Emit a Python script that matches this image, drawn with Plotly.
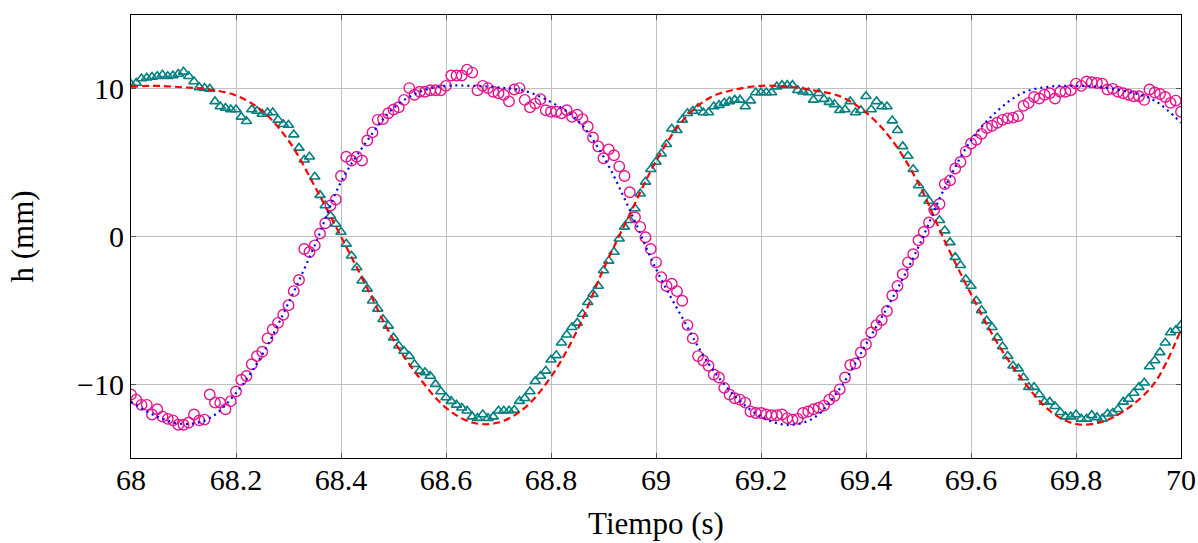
import numpy as np
import plotly.graph_objects as go

# sample times of the measured points (100 Hz) and of the fitted curves
t_meas = np.round(np.linspace(68.0, 70.0, 201), 2)
t_fit = np.round(np.linspace(68.0, 70.0, 41), 2)

tri_vals = [
    10.3, 10.4, 10.7, 10.75, 10.8, 10.85, 10.95, 10.85, 10.9, 11.0,
    11.15, 10.85, 10.5, 10.1, 10.05, 10.0, 9.15, 8.8, 8.7, 8.6,
    8.6, 8.1, 7.8, 8.6, 8.5, 8.3, 8.4, 8.4, 7.9, 7.6,
    7.55, 6.9, 6.0, 5.2, 5.4, 4.05, 2.8, 2.1, 1.4, 0.85,
    0.3, -0.5, -1.3, -2.1, -3.0, -3.55, -4.35, -4.9, -5.6, -6.05,
    -6.85, -7.4, -7.75, -8.1, -8.65, -9.1, -9.2, -9.45, -10.0, -10.5,
    -10.9, -11.15, -11.4, -11.6, -11.8, -12.2, -12.3, -12.05, -12.3, -12.2,
    -11.8, -11.8, -11.8, -11.75, -11.15, -10.95, -10.5, -9.8, -9.45, -9.1,
    -8.35, -8.05, -7.2, -6.65, -6.15, -5.85, -5.25, -4.45, -3.9, -3.35,
    -2.3, -1.65, -1.05, -0.15, 0.65, 1.1, 1.9, 2.9, 3.7, 4.55,
    5.05, 5.6, 6.25, 7.3, 7.2, 7.9, 8.35, 8.5, 8.7, 8.4,
    8.4, 8.8, 8.9, 9.05, 9.15, 9.25, 9.25, 8.8, 9.2, 9.75,
    9.75, 9.75, 9.75, 10.15, 10.25, 10.25, 10.25, 9.9, 9.8, 9.75,
    9.25, 9.7, 9.3, 9.1, 8.95, 8.55, 8.6, 9.15, 8.4, 8.55,
    9.5, 8.6, 9.15, 8.8, 8.8, 7.85, 7.2, 6.1, 5.45, 4.55,
    3.45, 2.9, 2.4, 2.0, 1.1, 0.4, -0.4, -1.4, -1.95, -2.9,
    -3.35, -4.35, -5.0, -5.7, -6.15, -6.85, -7.45, -8.1, -8.75, -8.95,
    -9.55, -10.2, -10.2, -10.7, -11.2, -11.2, -11.5, -11.9, -12.2, -12.2,
    -12.05, -12.35, -12.35, -12.1, -12.25, -12.35, -12.0, -11.95, -11.7, -11.2,
    -11.0, -10.6, -10.2, -9.9, -8.8, -8.4, -7.85, -7.2, -6.5, -6.35, -6.0,
]

circ_vals = [
    -10.7, -11.05, -11.4, -11.4, -12.05, -11.7, -12.2, -12.35, -12.45, -12.75,
    -12.75, -12.6, -12.05, -12.45, -12.4, -10.7, -11.25, -11.25, -11.7, -11.15,
    -10.5, -9.7, -9.45, -8.65, -8.1, -7.8, -6.9, -6.3, -5.85, -5.3,
    -4.65, -3.7, -2.95, -0.85, -1.05, -0.6, 0.2, 0.9, 2.1, 2.5,
    4.1, 5.4, 5.15, 5.4, 5.15, 6.5, 7.05, 7.9, 7.95, 8.35,
    8.6, 8.75, 9.25, 10.05, 9.6, 9.8, 9.8, 9.9, 9.9, 9.9,
    10.2, 10.9, 10.9, 10.9, 11.3, 11.1, 9.9, 10.2, 10.05, 9.8,
    9.7, 9.6, 9.15, 9.95, 10.05, 9.25, 8.75, 9.0, 9.3, 8.55,
    8.45, 8.45, 8.35, 8.55, 8.1, 8.25, 7.95, 7.45, 6.7, 6.1,
    5.3, 5.9, 5.5, 4.75, 4.1, 3.0, 1.3, 0.65, -0.05, -0.85,
    -1.75, -2.75, -3.35, -3.2, -3.7, -4.35, -6.0, -6.9, -8.1, -8.4,
    -8.75, -9.35, -9.55, -10.25, -10.7, -10.95, -11.05, -11.25, -11.85, -11.95,
    -11.95, -12.05, -12.1, -12.1, -12.05, -12.3, -12.4, -12.35, -11.95, -11.85,
    -11.7, -11.6, -11.45, -11.05, -10.8, -10.35, -9.55, -8.7, -8.6, -7.85,
    -7.3, -6.5, -6.0, -5.65, -5.05, -4.0, -3.35, -2.55, -1.75, -1.2,
    -0.25, 0.3, 0.95, 1.8, 2.2, 3.55, 3.8, 4.6, 5.05, 5.75,
    6.3, 6.55, 6.95, 7.35, 7.5, 7.7, 7.9, 8.0, 8.05, 8.15,
    8.85, 9.05, 9.45, 9.35, 9.6, 9.7, 9.35, 9.8, 9.8, 9.9,
    10.35, 10.2, 10.5, 10.45, 10.4, 10.35, 9.95, 10.0, 9.8, 9.7,
    9.6, 9.5, 9.5, 9.25, 9.95, 9.75, 9.65, 9.45, 9.05, 9.2, 8.45,
]

red_fit = [
    10.15, 10.2, 10.1, 9.95, 9.55, 8.5, 6.5, 3.4, 0.0, -3.5,
    -7.0, -9.6, -11.6, -12.6, -12.6, -11.6, -9.5, -6.35, -2.2, 1.5,
    5.1, 7.8, 9.35, 9.95, 10.2, 10.15, 9.9, 9.5, 8.4, 6.5,
    3.6, -0.3, -3.9, -7.2, -9.8, -11.8, -12.7, -12.55, -11.6, -9.9,
    -6.3,
]

blue_fit = [
    -11.2, -12.2, -12.7, -12.3, -10.6, -8.0, -4.5, -0.6, 3.7, 6.5,
    8.7, 9.8, 10.2, 10.2, 10.1, 9.85, 9.1, 7.9, 5.4, 1.8,
    -2.2, -5.5, -8.6, -10.8, -12.2, -12.75, -12.3, -10.3, -7.3, -4.2,
    -0.7, 3.3, 6.5, 8.5, 9.75, 10.15, 10.2, 10.1, 9.8, 9.2,
    7.7,
]

x_ticks = [68, 68.2, 68.4, 68.6, 68.8, 69, 69.2, 69.4, 69.6, 69.8, 70]
x_tick_labels = ["68", "68.2", "68.4", "68.6", "68.8", "69", "69.2", "69.4", "69.6", "69.8", "70"]
y_ticks = [-10, 0, 10]
y_tick_labels = ["\u221210", "0", "10"]

FONT = "Liberation Serif"

fig = go.Figure()
fig.add_trace(go.Scatter(
    x=t_meas, y=tri_vals, mode="markers",
    marker=dict(symbol="triangle-up-open", size=9, color="#008080",
                line=dict(width=1.6, color="#008080")),
    showlegend=False))
fig.add_trace(go.Scatter(
    x=t_meas, y=circ_vals, mode="markers",
    marker=dict(symbol="circle-open", size=10.5, color="#e6148c",
                line=dict(width=1.4, color="#e6148c")),
    showlegend=False))
fig.add_trace(go.Scatter(
    x=t_fit, y=red_fit, mode="lines",
    line=dict(color="#ff0000", width=2.2, dash="7px,4px", shape="spline", smoothing=1.0),
    showlegend=False))
fig.add_trace(go.Scatter(
    x=t_fit, y=blue_fit, mode="lines",
    line=dict(color="#0000ff", width=2.2, dash="2px,4px", shape="spline", smoothing=1.0),
    showlegend=False))

axis_common = dict(
    showline=True, linecolor="black", linewidth=1, mirror="ticks",
    ticks="inside", ticklen=5, tickcolor="#555555", tickwidth=1,
    showgrid=True, gridcolor="#c0c0c0", gridwidth=1, zeroline=False,
    tickfont=dict(family=FONT, size=30, color="black"),
)

fig.update_xaxes(range=[68, 70], tickvals=x_ticks, ticktext=x_tick_labels,
                 ticklabelstandoff=-5,
                 title=dict(text="Tiempo (s)", font=dict(family=FONT, size=31, color="black"), standoff=17),
                 **axis_common)
fig.update_yaxes(range=[-15, 15], tickvals=y_ticks, ticktext=y_tick_labels,
                 title=dict(text="h (mm)", font=dict(family=FONT, size=31, color="black"), standoff=34),
                 **axis_common)

fig.update_layout(
    width=1198, height=543,
    margin=dict(l=131, r=17, t=15, b=85, autoexpand=False),
    paper_bgcolor="white", plot_bgcolor="white",
    font=dict(family=FONT, color="black"),
)

fig.write_html("out.html", config={"displayModeBar": False},
               post_script="document.body.style.margin='0';document.body.style.overflow='hidden';")
